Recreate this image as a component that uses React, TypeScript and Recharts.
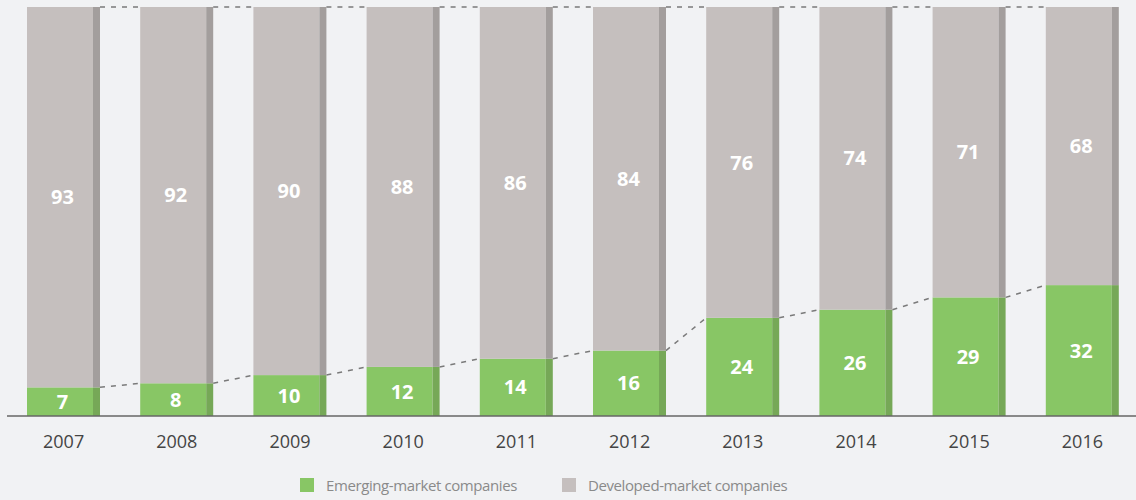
import React from "react";
import { Bar, BarChart, LabelList, XAxis, YAxis } from "recharts";

const years = ["2007", "2008", "2009", "2010", "2011", "2012", "2013", "2014", "2015", "2016"];
const emerging = [7, 8, 10, 12, 14, 16, 24, 26, 29, 32];
const developed = [93, 92, 90, 88, 86, 84, 76, 74, 71, 68];

const data = years.map((year, i) => ({ year, emerging: emerging[i], developed: developed[i] }));

const GREEN = "#88c665";
const GREEN_DARK = "#76a857";
const GREY = "#c5bfbe";
const GREY_DARK = "#a39e9d";
const DASH = "#7a7a7a";

const W = 1136;
const H = 500;
const MARGIN = { top: 7, right: -3, bottom: 40, left: 7 };
const BAR = 73;
const STRIP = 7;
const GAP = (W - MARGIN.left - MARGIN.right) / years.length - BAR;

// draws a bar with its darker right edge, plus the dashed link to the next bar
function makeShape(main: string, dark: string, series: number[], top: boolean) {
  return (props: any) => {
    const { x, y, width, height, index } = props;
    const value = series[index];
    const next = series[index + 1];
    let link = null;
    if (next !== undefined && height > 0) {
      const base = y + height;
      const ppu = height / value;
      const y2 = top ? y : base - next * ppu;
      link = (
        <line
          x1={x + width}
          y1={y}
          x2={x + width + GAP}
          y2={y2}
          stroke={DASH}
          strokeWidth={1.5}
          strokeDasharray="5 6"
        />
      );
    }
    return (
      <g>
        <rect x={x} y={y} width={width - STRIP} height={height} fill={main} />
        <rect x={x + width - STRIP} y={y} width={STRIP} height={height} fill={dark} />
        {link}
      </g>
    );
  };
}

const labelStyle = { fill: "#fff", fontSize: 20, fontWeight: 700, fontFamily: "'Open Sans', sans-serif" };

function Swatch({ color, label }: { color: string; label: string }) {
  return (
    <div style={{ display: "flex", alignItems: "center", marginRight: 45 }}>
      <div style={{ width: 14, height: 14, background: color, marginRight: 12 }} />
      <span>{label}</span>
    </div>
  );
}

export default function App() {
  return (
    <div
      style={{
        position: "absolute",
        left: 0,
        top: 0,
        width: W,
        height: H,
        background: "#f1f2f4",
        fontFamily: "'Open Sans', sans-serif",
      }}
    >
      <BarChart width={W} height={H} data={data} margin={MARGIN} barSize={BAR}>
        <XAxis
          dataKey="year"
          tickLine={false}
          axisLine={{ stroke: "#666", strokeWidth: 1.5 }}
          tick={{ fill: "#444", fontSize: 18 }}
          tickMargin={13}
          height={44}
        />
        <YAxis hide domain={[0, 100]} />
        <Bar
          dataKey="emerging"
          stackId="a"
          isAnimationActive={false}
          shape={makeShape(GREEN, GREEN_DARK, emerging, false)}
        >
          <LabelList dataKey="emerging" position="center" dx={-1} style={labelStyle} />
        </Bar>
        <Bar
          dataKey="developed"
          stackId="a"
          isAnimationActive={false}
          shape={makeShape(GREY, GREY_DARK, developed, true)}
        >
          <LabelList dataKey="developed" position="center" dx={-1} style={labelStyle} />
        </Bar>
      </BarChart>
      <div
        style={{
          position: "absolute",
          left: 300,
          top: 475,
          display: "flex",
          fontSize: 15,
          letterSpacing: -0.4,
          color: "#8a8a8a",
        }}
      >
        <Swatch color={GREEN} label="Emerging-market companies" />
        <Swatch color={GREY} label="Developed-market companies" />
      </div>
    </div>
  );
}
